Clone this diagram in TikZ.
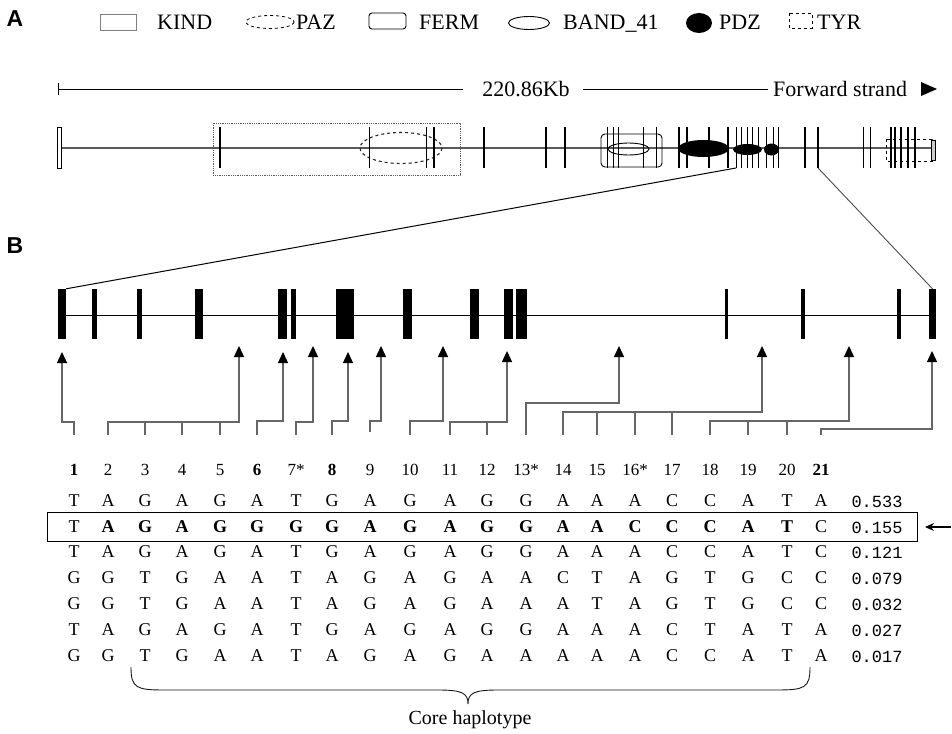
\documentclass[tikz,border=0pt]{standalone}
\usepackage{fontspec}
\setmainfont{Liberation Serif}
\setsansfont{Liberation Sans}
\newfontfamily\monof{Liberation Mono}
\usetikzlibrary{arrows.meta,calc}
\tikzset{
  gl/.style={line width=1.5},
  glthin/.style={line width=0.9},
  glthick/.style={line width=2.5},
  exon/.style={rectangle, fill=black, inner sep=0, minimum height=50},
  conn/.style={draw=black!60, line width=1.3},
  arr/.style={conn, -{Triangle[length=11,width=10,color=black]}},
  leg/.style={font=\fontsize{22}{24}\selectfont, anchor=base west, inner sep=0},
  base/.style={font=\fontsize{18}{20}\selectfont, inner sep=0},
  hdr/.style={font=\fontsize{17}{19}\selectfont, inner sep=0},
  freq/.style={font=\monof\fontsize{17}{20}\selectfont, inner sep=0},
  lab/.style={font=\sffamily\bfseries\fontsize{23}{25}\selectfont, inner sep=0},
  big/.style={font=\fontsize{22}{24}\selectfont, inner sep=0}
}
\begin{document}
\begin{tikzpicture}[x=1pt,y=-1pt]
\useasboundingbox (0,0) rectangle (952,733);
% ---------- Panel A legend
\node[lab] (labA) at (15,19) {A};
\draw[gray, line width=0.6] (100,14) rectangle (136,30);
\node[leg] (lkind) at (157,29.5) {KIND};
\draw[dashed, line width=0.8] (270,22) ellipse (24 and 6.5);
\node[leg] (lpaz) at (296,29.5) {PAZ};
\draw[line width=0.9, rounded corners=3] (369,13) rectangle (406,29);
\node[leg] (lferm) at (419,29.5) {FERM};
\draw[line width=0.9] (529,23) ellipse (20.5 and 6.5);
\node[leg] (lband) at (563,29.5) {BAND\_41};
\fill (699,23) ellipse (13 and 10);
\node[leg] (lpdz) at (719,29.5) {PDZ};
\draw[dashed, line width=0.9] (789,13) rectangle (812,28);
\node[leg] (ltyr) at (817,29.5) {TYR};
% ---------- scale bar
\coordinate (sb0) at (58,89);
\coordinate (sb1) at (463,89);
\coordinate (sb2) at (583,89);
\coordinate (sb3) at (768,89);
\draw[line width=0.9] (sb0) -- (sb1);
\draw[line width=0.9] (58,83) -- (58,95);
\node[big] (kb) at (526,89) {220.86Kb};
\draw[line width=0.9] (sb2) -- (sb3);
\node[big, anchor=west] (fs) at (773,89) {Forward strand};
\fill (921,82) -- (937,89) -- (921,96) -- cycle;
% ---------- gene track A
\draw[gray!70!black, line width=1.2] (58,148) -- (935,148);
\draw[densely dotted, gray!70!black, line width=0.8] (213,123) rectangle (460,175);
\draw[dashed, line width=1.1, gray!30!black] (401,148) ellipse (41 and 15.5);
\draw[line width=0.7, fill=white] (57,127) rectangle (61.5,168);
\foreach \x in {220,484,546,565} \draw[gl] (\x,127) -- (\x,168);
\foreach \x in {369,426} \draw[glthin] (\x,127) -- (\x,168);
\draw[glthick] (434,127) -- (434,168);
\draw[line width=0.9, rounded corners=4] (601,134) rectangle (662,167);
\foreach \x in {607,613,618,643,656} \draw[glthin] (\x,127) -- (\x,168);
\draw[line width=0.9] (628.5,149) ellipse (20.5 and 6);
\fill (703.5,148.5) ellipse (25.5 and 8.5);
\fill (747.5,149.5) ellipse (14.5 and 5.5);
\fill (771.5,149.5) ellipse (7.5 and 6);
\foreach \x in {679,687,709,728} \draw[glthick] (\x,127) -- (\x,168);
\foreach \x in {741,747,752,758,766,773,778} \draw[glthin] (\x,127) -- (\x,168);
\draw[glthin] (736,127) -- (736,168) coordinate (gz1);
\draw[gl] (805,127) -- (805,168);
\draw[gl] (818,127) -- (818,168) coordinate (gz2);
\foreach \x in {863,870} \draw[glthin] (\x,127) -- (\x,168);
\draw[dashed, line width=0.9] (886,139) rectangle (932,161);
\foreach \x in {891,895,901,908,915} \draw[gl] (\x,127) -- (\x,168);
\draw[line width=0.6, fill=gray!40] (931.5,140) rectangle (935,160);
% ---------- Panel B
\node[lab] (labB) at (15,246) {B};
\draw[line width=1] (58,315) -- (936,315);
\foreach \n/\a/\b in {1/58/66,2/92/97,3/137/142,4/195/203,5/278/287,6/291/296,7/336/354,8/403/412,9/470/479,10/504/513,11/516/527,12/725/728,13/801/805,14/897/901,15/929/936}{
  \pgfmathsetmacro\w{\b-\a}
  \pgfmathsetmacro\c{(\a+\b)/2}
  \node[exon, minimum width=\w] (e\n) at (\c,314) {};
}
\draw[line width=1] (gz1) -- (e1.north east);
\draw[line width=0.9, gray!60!black] (gz2) -- (e15.north);
% ---------- column coordinates
\def\colxs{{74,108,145,182,220,257,296,332,370,410,450,487,526,563,597,635,672,710,748,787,821}}
\foreach \i in {1,...,21}{
  \pgfmathsetmacro\xx{\colxs[\i-1]}
  \coordinate (c\i) at (\xx,435);
}
% arrow tips
\foreach \n/\x/\y in {1/62/352,2/239/346,3/283/352,4/313/346,5/348/352,6/381/346,7/443/346,8/507/351,9/619/346,10/762/346,11/849/346,12/932/351}{
  \coordinate (a\n) at (\x,\y);
}
% connectors
\draw[arr] (c1) -- ++(0,-13) -| (a1);
\draw[arr] (c2) -- ++(0,-13) -| (a2);
\foreach \i in {3,4,5} \draw[conn] (c\i) -- ++(0,-13);
\draw[arr] (c6) -- ++(0,-14) -| (a3);
\draw[arr] (c7) -- ++(0,-13) -| (a4);
\draw[arr] (c8) -- ++(0,-14) -| (a5);
\draw[arr] ($(c9)+(0,-3)$) -- ++(0,-11) -| (a6);
\draw[arr] (c10) -- ++(0,-14) -| (a7);
\draw[arr] (c11) -- ++(0,-13) -| (a8);
\draw[conn] (c12) -- ++(0,-13);
\draw[arr] (c13) -- ++(0,-32) -| (a9);
\draw[arr] (c14) -- ++(0,-23) -| (a10);
\foreach \i in {15,16,17} \draw[conn] (c\i) -- ++(0,-23);
\draw[arr] (c18) -- ++(0,-14) -| (a11);
\foreach \i in {19,20} \draw[conn] (c\i) -- ++(0,-14);
\draw[arr] (c21) -- ++(0,-6) -| (a12);
% ---------- table header
\foreach \h [count=\i] in {\textbf{1},2,3,4,5,\textbf{6},7*,\textbf{8},9,10,11,12,13*,14,15,16*,17,18,19,20,\textbf{21}}{
  \pgfmathsetmacro\xx{\colxs[\i-1]}
  \node[hdr] (h\i) at (\xx,470) {\h};
}
% ---------- rows
\foreach \r/\y/\seq/\f in {
  1/501/{T,A,G,A,G,A,T,G,A,G,A,G,G,A,A,A,C,C,A,T,A}/0.533,
  2/527/{T,\textbf{A},\textbf{G},\textbf{A},\textbf{G},\textbf{G},\textbf{G},\textbf{G},\textbf{A},\textbf{G},\textbf{A},\textbf{G},\textbf{G},\textbf{A},\textbf{A},\textbf{C},\textbf{C},\textbf{C},\textbf{A},\textbf{T},C}/0.155,
  3/552/{T,A,G,A,G,A,T,G,A,G,A,G,G,A,A,A,C,C,A,T,C}/0.121,
  4/578/{G,G,T,G,A,A,T,A,G,A,G,A,A,C,T,A,G,T,G,C,C}/0.079,
  5/604/{G,G,T,G,A,A,T,A,G,A,G,A,A,A,T,A,G,T,G,C,C}/0.032,
  6/630/{T,A,G,A,G,A,T,G,A,G,A,G,G,A,A,A,C,T,A,T,A}/0.027,
  7/656/{G,G,T,G,A,A,T,A,G,A,G,A,A,A,A,A,C,C,A,T,A}/0.017}{
  \foreach \s [count=\i] in \seq{
    \pgfmathsetmacro\xx{\colxs[\i-1]}
    \node[base] (r\r c\i) at (\xx,\y) {\s};
  }
  \node[freq] (f\r) at (877,\y+1) {\f};
}
\draw[line width=1] (47,512) rectangle (917,541);
\coordinate (pa0) at (951,527);
\coordinate (pa1) at (925,527);
\draw[line width=1.2, -{Stealth[length=9,width=8]}] (pa0) -- (pa1);
% ---------- brace
\draw[line width=0.9, gray!20!black] (131,667) .. controls (131,688) and (136,690) .. (165,690) -- (438,690) .. controls (462,690) and (468,693) .. (468,704)
  .. controls (468,693) and (474,690) .. (498,690) -- (776,690) .. controls (805,690) and (810,688) .. (810,667);
\node[font=\fontsize{20}{22}\selectfont, inner sep=0] (core) at (470,720) {Core haplotype};
\end{tikzpicture}
\end{document}
